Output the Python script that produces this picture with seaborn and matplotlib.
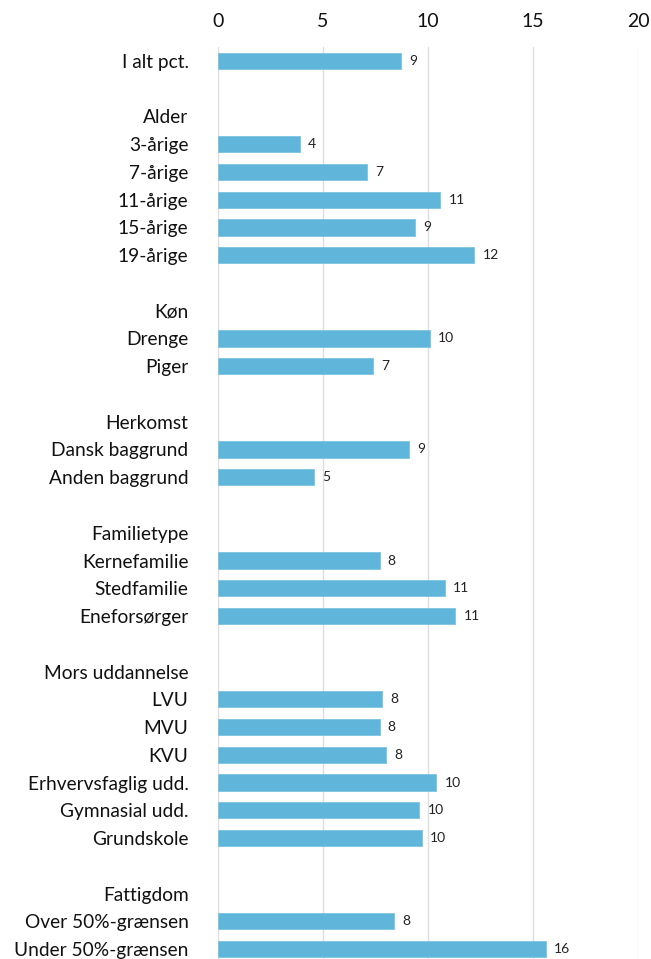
import numpy as np
import pandas as pd
import matplotlib
matplotlib.use("Agg")
import matplotlib.pyplot as plt
import seaborn as sns

# rows from top to bottom; headers and spacer rows have no value
labels = [
    "I alt pct.", " ",
    "Alder", "3-årige", "7-årige", "11-årige", "15-årige", "19-årige", "  ",
    "Køn", "Drenge", "Piger", "   ",
    "Herkomst", "Dansk baggrund", "Anden baggrund", "    ",
    "Familietype", "Kernefamilie", "Stedfamilie", "Eneforsørger", "     ",
    "Mors uddannelse", "LVU", "MVU", "KVU", "Erhvervsfaglig udd.", "Gymnasial udd.", "Grundskole", "      ",
    "Fattigdom", "Over 50%-grænsen", "Under 50%-grænsen",
]
values = [
    8.7, np.nan,
    np.nan, 3.9, 7.1, 10.6, 9.4, 12.2, np.nan,
    np.nan, 10.1, 7.4, np.nan,
    np.nan, 9.1, 4.6, np.nan,
    np.nan, 7.7, 10.8, 11.3, np.nan,
    np.nan, 7.8, 7.7, 8.0, 10.4, 9.6, 9.7, np.nan,
    np.nan, 8.4, 15.6,
]
xticks = [0, 5, 10, 15, 20]

bar_color = "#5fb6da"
font = "Lato"

df = pd.DataFrame({"label": labels, "value": values})

sns.set_style("white")
plt.rcParams["font.family"] = [font, "DejaVu Sans"]

W, H = 651, 959
fig = plt.figure(figsize=(W / 100, H / 100), dpi=100)
left, right = 217.7, 638.0
top, bottom = 47.1, 962.9
ax = fig.add_axes([left / W, 1 - bottom / H, (right - left) / W, (bottom - top) / H])

sns.barplot(data=df, x="value", y="label", order=labels, orient="h",
            color=bar_color, width=0.58, saturation=1, ax=ax,
            edgecolor="#7cc4e2", linewidth=0.6, zorder=3)

for c in ax.containers:
    ax.bar_label(c, fmt="{:.0f}", padding=6, fontsize=10, color="#222222")

ax.set_xlim(0, 20)
ax.set_ylim(len(labels) - 0.5, -0.5)
ax.set_xticks(xticks)
ax.xaxis.tick_top()
ax.grid(axis="x", color="#dedede", linewidth=1.0, zorder=0)
ax.grid(axis="y", visible=False)
ax.set_axisbelow(True)
for s in ax.spines.values():
    s.set_visible(False)
ax.tick_params(axis="x", length=0, pad=12, labelsize=14, labelcolor="#111111")
ax.tick_params(axis="y", length=0, pad=21, labelsize=13.8, labelcolor="#111111")
ax.set_xlabel("")
ax.set_ylabel("")

fig.savefig("out.png", dpi=100)
